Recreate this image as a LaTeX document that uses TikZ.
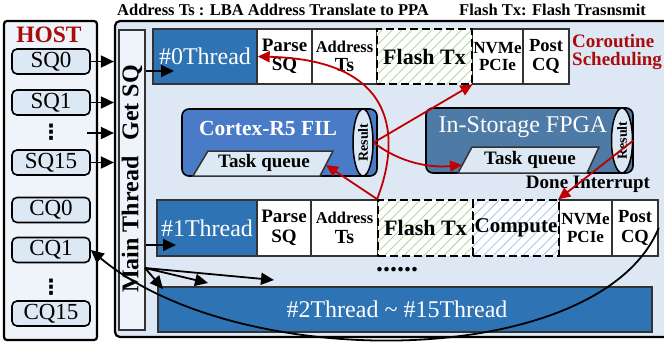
\documentclass[tikz,border=0pt]{standalone}
\usepackage{fontspec}
\setmainfont{Liberation Serif}
\newfontfamily\dotsfont{DejaVu Sans}
\usetikzlibrary{arrows.meta,patterns.meta,shapes.geometric}

\definecolor{panelbg}{HTML}{DDE8F4}
\definecolor{hostbg}{HTML}{EEF4FA}
\definecolor{qbg}{HTML}{DCE8F4}
\definecolor{thr}{HTML}{2E73B4}
\definecolor{cortex}{HTML}{4A7BC6}
\definecolor{fpga}{HTML}{4E7AA6}
\definecolor{dred}{HTML}{C00000}
\definecolor{hostred}{HTML}{A80C0C}
\definecolor{edge}{HTML}{333333}
\definecolor{hatchgreen}{HTML}{B5D99C}
\definecolor{hatchblue}{HTML}{A9CBEA}

\tikzset{
  qbox/.style={draw=black, line width=1.6pt, rounded corners=5pt, fill=qbg,
    minimum width=78pt, minimum height=25pt, inner sep=0pt,
    font=\fontsize{23}{23}\selectfont},
  vdotsbox/.style={inner sep=0pt, font=\dotsfont\bfseries\fontsize{21}{21}\selectfont},
  cell/.style={draw=edge, line width=1.4pt, inner sep=0pt, align=center},
  thrcell/.style={cell, fill=thr, text=white, font=\fontsize{24}{24}\selectfont},
  opcell/.style={cell, fill=white},
  hatchcell/.style={cell, draw=black, line width=1.8pt, dash pattern=on 8pt off 4pt,
    preaction={fill=white},
    pattern={Lines[angle=45,distance=7pt,line width=0.9pt]}, pattern color=#1},
  parsefont/.style={font=\bfseries\fontsize{19}{19.5}\selectfont},
  addrfont/.style={font=\bfseries\fontsize{16.5}{19.5}\selectfont},
  flashfont/.style={font=\bfseries\fontsize{22}{22}\selectfont},
  nvmefont/.style={font=\bfseries\fontsize{17}{17.5}\selectfont},
  postfont/.style={font=\bfseries\fontsize{18.5}{19.5}\selectfont},
  blkarrow/.style={draw=black, line width=1.8pt, -{Triangle[length=13pt,width=12pt]}},
  redarrow/.style={draw=dred, line width=1.8pt, -{Triangle[length=12pt,width=11pt]}},
  tqbox/.style={draw=edge, line width=1.5pt, fill=qbg, line join=miter},
  tqtext/.style={font=\bfseries\fontsize{19}{19}\selectfont, inner sep=0pt},
  resell/.style={ellipse, draw=black, line width=1.5pt, fill=qbg, inner sep=0pt},
  restext/.style={rotate=90, font=\bfseries\fontsize{14}{14}\selectfont, inner sep=0pt},
}
\newcommand{\bigTs}{{\fontsize{20}{20}\selectfont Ts}}

\begin{document}
\begin{tikzpicture}[x=1pt,y=-1pt]
\path[use as bounding box] (0,0) rectangle (664,343);
\clip (0,0) rectangle (664,343);

% headline legend
\node[anchor=west, inner sep=0pt, font=\bfseries\fontsize{16.5}{16.5}\selectfont] (hdrA) at (117,9.5) {Address Ts : LBA Address Translate to PPA};
\node[anchor=west, inner sep=0pt, font=\bfseries\fontsize{16.5}{16.5}\selectfont] (hdrB) at (459,9.5) {Flash Tx: Flash Trasnsmit};

% host side queues
\node[draw=black, line width=2.2pt, rounded corners=3pt, fill=hostbg, minimum width=93pt, minimum height=319pt, inner sep=0pt] (host) at (50.5,180.5) {};
\node[font=\bfseries\fontsize{23.5}{23.5}\selectfont, text=hostred, inner sep=0pt] (hostlbl) at (49,35) {HOST};
\node[qbox] (sq0) at (51,61.5) {SQ0};
\node[qbox] (sq1) at (51,102.5) {SQ1};
\node[vdotsbox] (sqdots) at (51,132) {⋮};
\node[qbox] (sq15) at (51,162.5) {SQ15};
\node[qbox] (cq0) at (51,210) {CQ0};
\node[qbox] (cq1) at (51,250) {CQ1};
\node[vdotsbox] (cqdots) at (51,287) {⋮};
\node[qbox] (cq15) at (51,313.5) {CQ15};

% device panel
\node[draw=black, line width=2.2pt, rounded corners=5pt, fill=panelbg, minimum width=570pt, minimum height=316pt, inner sep=0pt] (panel) at (400,179) {};

% main thread column
\node[draw=edge, line width=1.3pt, fill=hostbg, minimum width=26pt, minimum height=300pt, inner sep=0pt] (maincol) at (132,180) {};
\node[rotate=90, font=\bfseries\fontsize{24}{24}\selectfont, inner sep=0pt] (mainlbl) at (132,179) {Main Thread\hspace{16pt}Get SQ};

% thread 0 pipeline
\node[thrcell, minimum width=104pt, minimum height=55pt] (t0) at (205,56.5) {\#0Thread};
\node[opcell, parsefont, minimum width=55pt, minimum height=55pt] (p0) at (284.5,56.5) {Parse\\SQ};
\node[opcell, addrfont, minimum width=65pt, minimum height=55pt] (a0) at (344.5,56.5) {Address\\\bigTs};
\node[opcell, nvmefont, minimum width=51pt, minimum height=55pt] (n0) at (497.5,56.5) {NVMe\\PCIe};
\node[opcell, postfont, minimum width=46pt, minimum height=55pt] (q0) at (546,56.5) {Post\\CQ};
\node[hatchcell=hatchgreen, flashfont, minimum width=95pt, minimum height=55pt] (f0) at (424.5,56.5) {Flash Tx};

\node[anchor=north west, align=left, inner sep=0pt, text=hostred, font=\bfseries\fontsize{19}{18}\selectfont] (coro) at (572,34) {Coroutine\\Scheduling};

% thread 1 pipeline
\node[thrcell, minimum width=100pt, minimum height=56pt] (t1) at (207,228) {\#1Thread};
\node[opcell, parsefont, minimum width=54pt, minimum height=56pt] (p1) at (284,228) {Parse\\SQ};
\node[opcell, addrfont, minimum width=67pt, minimum height=56pt] (a1) at (344.5,228) {Address\\\bigTs};
\node[opcell, nvmefont, minimum width=53pt, minimum height=56pt] (n1) at (585.5,228) {NVMe\\PCIe};
\node[opcell, postfont, minimum width=46pt, minimum height=56pt] (q1) at (635,228) {Post\\CQ};
\node[hatchcell=hatchgreen, flashfont, minimum width=95pt, minimum height=56pt] (f1) at (425.5,228) {Flash Tx};
\node[hatchcell=hatchblue, font=\bfseries\fontsize{21}{21}\selectfont, minimum width=86pt, minimum height=56pt] (c1) at (516,228) {Compute};

\node[inner sep=0pt, font=\bfseries\fontsize{28}{28}\selectfont] (moredots) at (397,270) {......};

% remaining threads
\node[draw=edge, line width=1.5pt, fill=thr, minimum width=494pt, minimum height=45pt, inner sep=0pt] (trest) at (405,309.5) {};
\node[text=white, inner sep=0pt, font=\fontsize{24}{24}\selectfont] (trestlbl) at (397,309) {\#2Thread \textasciitilde{} \#15Thread};

% Cortex-R5 flash interface layer
\node[draw=black, line width=1.6pt, rounded corners=7pt, fill=cortex, minimum width=195pt, minimum height=67pt, inner sep=0pt] (cortex) at (279.5,142.5) {};
\node[text=white, inner sep=0pt, font=\bfseries\fontsize{21.5}{21.5}\selectfont] (cortexlbl) at (268,128) {Cortex-R5 FIL};
\draw[tqbox] (193,176) -- (208,151) -- (333,151) -- (320,176) -- cycle;
\node[tqtext] (ctq) at (264,163) {Task queue};
\node[resell, minimum width=20pt, minimum height=67pt] (cres) at (363,142.5) {};
\node[restext] (creslbl) at (cres) {Result};

% in-storage FPGA
\node[draw=black, line width=1.6pt, rounded corners=7pt, fill=fpga, minimum width=207pt, minimum height=65pt, inner sep=0pt] (fpga) at (529.5,140.5) {};
\node[text=white, inner sep=0pt, font=\fontsize{24}{24}\selectfont] (fpgalbl) at (523,127) {In-Storage FPGA};
\draw[tqbox] (458,173) -- (472,147) -- (599,147) -- (587,173) -- cycle;
\node[tqtext] (ftq) at (530,160) {Task queue};
\node[resell, minimum width=21pt, minimum height=65pt] (fres) at (622,140.5) {};
\node[restext] (freslbl) at (fres) {Result};

\node[inner sep=0pt, font=\bfseries\fontsize{19}{19}\selectfont] (doneint) at (588,184) {Done Interrupt};

% arrow end points
\coordinate (sqgap) at (87,133);
\coordinate (t0in) at (174,71);
\coordinate (t1in) at (176,245);
\coordinate (fanout) at (145,268);
\coordinate (fanA) at (163,289);
\coordinate (fanB) at (208,283);
\coordinate (fanC) at (274,280);
\coordinate (fqin) at (462,165);
\coordinate (cqin) at (326,165);

% submission queues into the main thread
\draw[blkarrow] (sq0.east) -- (sq0.east -| panel.west);
\draw[blkarrow] (sq1.east) -- (sq1.east -| panel.west);
\draw[blkarrow] (sqgap) -- (sqgap -| panel.west);
\draw[blkarrow] (sq15.east) -- (sq15.east -| panel.west);

% dispatch to threads
\draw[blkarrow] (t0in -| maincol.east) -- (t0in);
\draw[blkarrow] (t1in -| maincol.east) -- (t1in);
\draw[blkarrow] (fanout) -- (fanA);
\draw[blkarrow] (fanout) -- (fanB);
\draw[blkarrow] (fanout) -- (fanC);

% completion back to the host
\draw[blkarrow] (q1.east) .. controls (600,370) and (240,375) .. (cq1.east);

% coroutine hand-offs
\draw[redarrow] (cres.east) -- (f0.south east);
\draw[redarrow] (cres.east) .. controls (400,163) and (430,168) .. (fqin);
\draw[redarrow] (f1.north west) .. controls (400,140) and (400,60) .. (t0.east);
\draw[redarrow] (f1.north west) -- (cqin);
\draw[redarrow] (fres.east) -- (n1.north west);
\end{tikzpicture}
\end{document}
